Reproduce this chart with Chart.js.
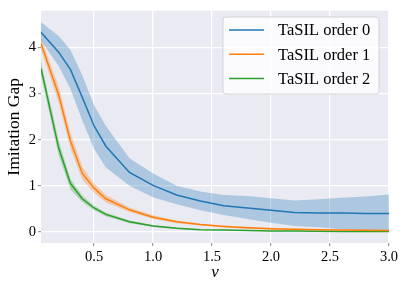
<!DOCTYPE html>
<html><head><meta charset="utf-8">
<script src="https://cdn.jsdelivr.net/npm/chart.js@4/dist/chart.umd.min.js"></script>
<style>html,body{margin:0;padding:0;background:#fff;}#wrap{width:407px;height:291px;}</style>
</head><body><div id="wrap"><canvas id="c" width="407" height="291"></canvas></div>
<script>
const nu = [0.05,0.2,0.3,0.4,0.5,0.6,0.8,1.0,1.2,1.4,1.6,1.8,2.0,2.2,2.4,2.6,2.8,3.0];
const labels = ["TaSIL order 0","TaSIL order 1","TaSIL order 2"];
const mean0 = [4.33,3.9,3.52,2.92,2.3,1.86,1.29,1.01,0.8,0.67,0.57,0.52,0.47,0.42,0.41,0.41,0.40,0.40];
const up0   = [4.55,4.25,3.95,3.4,2.75,2.3,1.6,1.27,1.0,0.88,0.8,0.78,0.73,0.68,0.71,0.74,0.77,0.81];
const lo0   = [4.15,3.6,3.1,2.42,1.8,1.4,1.0,0.75,0.6,0.47,0.37,0.28,0.2,0.13,0.1,0.06,0.03,0.0];
const mean1 = [4.09,2.97,1.97,1.27,0.95,0.72,0.48,0.32,0.22,0.16,0.12,0.09,0.07,0.06,0.05,0.04,0.035,0.03];
const up1   = [4.22,3.15,2.15,1.42,1.05,0.8,0.53,0.36,0.25,0.18,0.14,0.11,0.09,0.07,0.06,0.05,0.045,0.04];
const lo1   = [3.96,2.8,1.8,1.13,0.85,0.64,0.43,0.28,0.19,0.14,0.1,0.07,0.05,0.05,0.04,0.03,0.025,0.02];
const mean2 = [3.55,1.82,1.05,0.72,0.52,0.38,0.22,0.13,0.08,0.05,0.04,0.03,0.02,0.02,0.015,0.01,0.01,0.01];
const up2   = [3.7,1.98,1.15,0.79,0.57,0.42,0.25,0.15,0.095,0.06,0.05,0.035,0.025,0.025,0.02,0.015,0.015,0.015];
const lo2   = [3.4,1.66,0.92,0.65,0.47,0.34,0.19,0.11,0.065,0.04,0.03,0.025,0.015,0.015,0.01,0.005,0.005,0.005];
const xTicks = [0.5,1.0,1.5,2.0,2.5,3.0];
const yTicks = [0,1,2,3,4];

const colors = ['#1f77b4','#ff7f0e','#2ca02c'];
const fills = ['rgba(31,119,180,0.3)','rgba(255,127,14,0.3)','rgba(44,160,44,0.3)'];
const pts = a => a.map((v,i)=>({x:nu[i],y:v}));
const FONT = "'Liberation Serif','DejaVu Serif',serif";

const ds = [];
[[mean0,up0,lo0],[mean1,up1,lo1],[mean2,up2,lo2]].forEach((s,k)=>{
  ds.push({label:'_u'+k,data:pts(s[1]),borderWidth:0,pointRadius:0,fill:'+1',backgroundColor:fills[k],tension:0,order:10});
  ds.push({label:'_l'+k,data:pts(s[2]),borderWidth:0,pointRadius:0,fill:false,tension:0,order:10});
});
[mean0,mean1,mean2].forEach((m,k)=>{
  ds.push({label:labels[k],data:pts(m),borderColor:colors[k],borderWidth:1.5,pointRadius:0,fill:false,tension:0,order:1});
});

const bgPlugin = {id:'bg',beforeDraw(c){const a=c.chartArea,x=c.ctx;x.save();x.fillStyle='#EAEAF2';x.fillRect(a.left,a.top,a.right-a.left,a.bottom-a.top);x.restore();}};
const legendPlugin = {id:'lg',afterDatasetsDraw(c){
  const x=c.ctx; x.save();
  const bx=223,by=17,bw=156,bh=77,r=3;
  x.beginPath();x.moveTo(bx+r,by);x.arcTo(bx+bw,by,bx+bw,by+bh,r);x.arcTo(bx+bw,by+bh,bx,by+bh,r);x.arcTo(bx,by+bh,bx,by,r);x.arcTo(bx,by,bx+bw,by,r);x.closePath();
  x.fillStyle='rgba(255,255,255,0.8)';x.fill();x.strokeStyle='rgba(204,204,204,0.8)';x.lineWidth=1;x.stroke();
  x.font="16.5px "+FONT;x.textBaseline='middle';x.fillStyle='#000';
  labels.forEach((t,i)=>{const yy=30+i*24.2;x.strokeStyle=colors[i];x.lineWidth=1.5;x.beginPath();x.moveTo(229,yy);x.lineTo(264,yy);x.stroke();x.fillText(t,278,yy+1);});
  x.restore();}};

new Chart(document.getElementById('c'),{
  type:'line',
  data:{datasets:ds},
  options:{responsive:false,animation:false,devicePixelRatio:1,
    layout:{padding:{top:8,right:18,left:0,bottom:8}},
    plugins:{legend:{display:false},tooltip:{enabled:false},filler:{propagate:false}},
    scales:{
      x:{type:'linear',min:0.05,max:3.0,
        afterBuildTicks(s){s.ticks=xTicks.map(v=>({value:v}));},
        afterFit(s){s.height=40;},
        grid:{color:'#ffffff',lineWidth:1.2,drawTicks:true,tickLength:3,tickColor:'#999'},border:{display:false},
        ticks:{color:'#000',font:{family:FONT,size:14.5},padding:2,maxRotation:0,callback:v=>v.toFixed(1)},
        title:{display:true,text:'ν',color:'#000',font:{family:FONT,size:17,style:'italic'},padding:{top:0,bottom:0}}},
      y:{type:'linear',min:-0.24,max:4.8,
        afterBuildTicks(s){s.ticks=yTicks.map(v=>({value:v}));},
        afterFit(s){s.width=41;},
        grid:{color:'#ffffff',lineWidth:1.2,drawTicks:true,tickLength:3,tickColor:'#999'},border:{display:false},
        ticks:{color:'#000',font:{family:FONT,size:14.5},padding:2,callback:v=>String(v)},
        title:{display:true,text:'Imitation Gap',color:'#000',font:{family:FONT,size:17.5},padding:{top:4,bottom:2}}}
    }},
  plugins:[bgPlugin,legendPlugin]
});
</script></body></html>
